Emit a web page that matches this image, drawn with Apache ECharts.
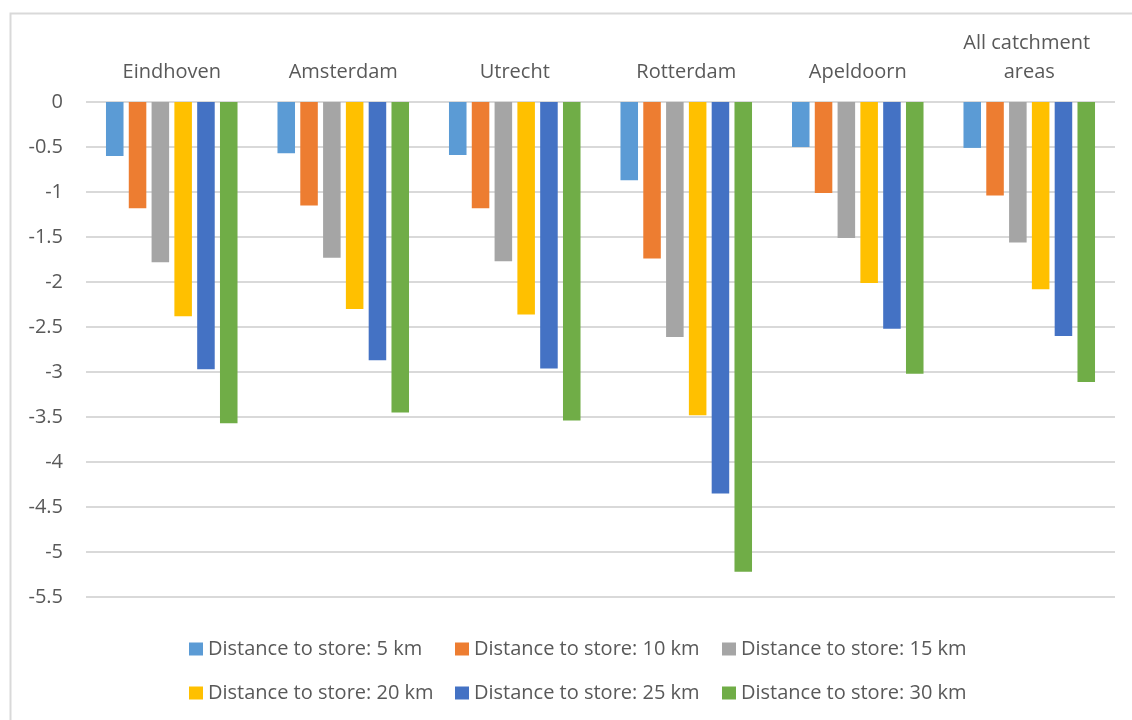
<!DOCTYPE html>
<html>
<head>
<meta charset="utf-8">
<script src="https://cdn.jsdelivr.net/npm/echarts@6/dist/echarts.min.js"></script>
<style>
  html, body { margin: 0; padding: 0; background: #fff; }
  #chart { width: 1132px; height: 720px; }
</style>
</head>
<body>
<div id="chart"></div>
<script>
// Catchment areas shown along the top axis
const areas = ['Eindhoven', 'Amsterdam', 'Utrecht', 'Rotterdam', 'Apeldoorn', 'All catchment areas'];

// Effect per distance band, one value per area
const km5  = [-0.60, -0.57, -0.59, -0.87, -0.50, -0.51];
const km10 = [-1.18, -1.15, -1.18, -1.74, -1.01, -1.04];
const km15 = [-1.78, -1.73, -1.77, -2.61, -1.51, -1.56];
const km20 = [-2.38, -2.30, -2.36, -3.48, -2.01, -2.08];
const km25 = [-2.97, -2.87, -2.96, -4.35, -2.52, -2.60];
const km30 = [-3.57, -3.45, -3.54, -5.22, -3.02, -3.11];

const seriesNames = [
  'Distance to store: 5 km',
  'Distance to store: 10 km',
  'Distance to store: 15 km',
  'Distance to store: 20 km',
  'Distance to store: 25 km',
  'Distance to store: 30 km'
];
const seriesData = [km5, km10, km15, km20, km25, km30];
const colors = ['#5B9BD5', '#ED7D31', '#A5A5A5', '#FFC000', '#4472C4', '#70AD47'];

const FONT = 'Open Sans';
const TEXT = '#595959';

const chart = echarts.init(document.getElementById('chart'), null, { renderer: 'canvas' });

// Legend laid out in three columns, two rows
function legendColumn(left, names) {
  return {
    orient: 'vertical',
    left: left,
    top: 637,
    padding: 0,
    itemWidth: 14,
    itemHeight: 13,
    itemGap: 20,
    icon: 'rect',
    data: names,
    selectedMode: false,
    textStyle: { fontFamily: FONT, fontSize: 20, color: TEXT, lineHeight: 24 }
  };
}

chart.setOption({
  backgroundColor: '#ffffff',
  animation: false,
  color: colors,
  textStyle: { fontFamily: FONT },
  graphic: [{
    type: 'rect',
    left: 8,
    top: 11,
    shape: { width: 1300, height: 900 },
    style: { fill: 'none', stroke: '#D9D9D9', lineWidth: 2 },
    silent: true
  }],
  grid: { left: 86, right: 17, top: 102, bottom: 123 },
  legend: [
    legendColumn(189, [seriesNames[0], seriesNames[3]]),
    legendColumn(455, [seriesNames[1], seriesNames[4]]),
    legendColumn(722, [seriesNames[2], seriesNames[5]])
  ],
  xAxis: {
    type: 'category',
    position: 'top',
    data: areas,
    axisLine: { show: false },
    axisTick: { show: false },
    axisLabel: {
      fontFamily: FONT,
      fontSize: 20,
      color: TEXT,
      lineHeight: 29,
      margin: 15,
      width: 150,
      overflow: 'break',
      interval: 0
    }
  },
  yAxis: {
    type: 'value',
    min: -5.5,
    max: 0,
    interval: 0.5,
    axisLine: { show: false },
    axisTick: { show: false },
    axisLabel: { fontFamily: FONT, fontSize: 20, color: TEXT, margin: 23 },
    splitLine: { lineStyle: { color: '#D9D9D9', width: 2 } }
  },
  series: seriesNames.map((name, i) => ({
    name: name,
    type: 'bar',
    data: seriesData[i],
    barGap: '30%',
    barCategoryGap: '23.3%',
    itemStyle: { color: colors[i] }
  }))
});
</script>
</body>
</html>
